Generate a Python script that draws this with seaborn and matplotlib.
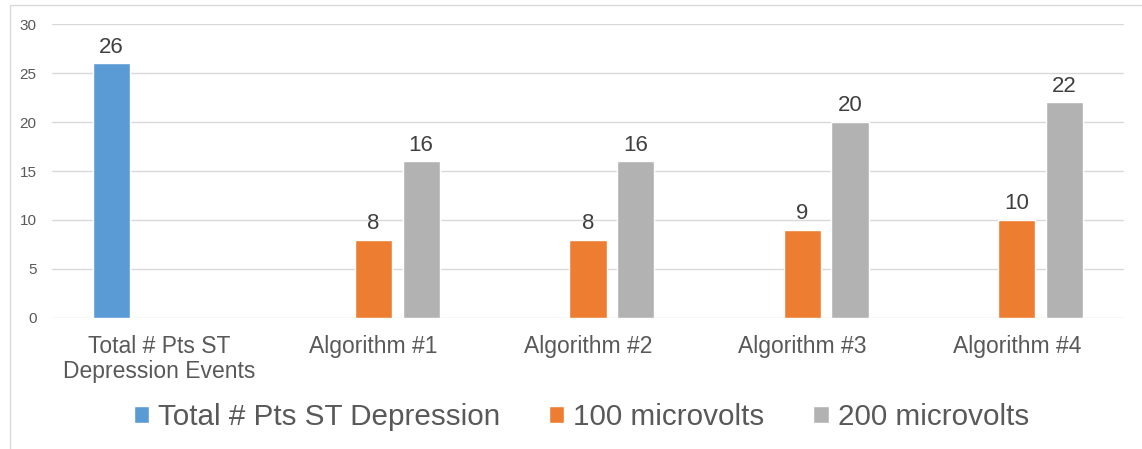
import matplotlib
matplotlib.use("Agg")
import matplotlib.pyplot as plt
from matplotlib.patches import Rectangle
import pandas as pd
import seaborn as sns

# Chart data
categories = ["Total # Pts ST\nDepression Events", "Algorithm #1", "Algorithm #2",
              "Algorithm #3", "Algorithm #4"]
series_names = ["Total # Pts ST Depression", "100 microvolts", "200 microvolts"]
total_events = [26]
uv100 = [8, 8, 9, 10]
uv200 = [16, 16, 20, 22]
y_ticks = [0, 5, 10, 15, 20, 25, 30]
colors = ["#5B9BD5", "#ED7D31", "#B2B2B2"]

rows = [(categories[0], series_names[0], total_events[0])]
for cat, a, b in zip(categories[1:], uv100, uv200):
    rows.append((cat, series_names[1], a))
    rows.append((cat, series_names[2], b))
df = pd.DataFrame(rows, columns=["category", "series", "value"])

sns.set_theme(style="white")
plt.rcParams["font.family"] = ["Liberation Sans", "DejaVu Sans"]

fig = plt.figure(figsize=(11.42, 4.49), dpi=100)
ax = fig.add_axes([0.0455, 0.2918, 0.9387, 0.6547])

sns.barplot(data=df, x="category", y="value", hue="series", order=categories,
            hue_order=series_names, palette=colors, width=0.666, gap=0.22,
            errorbar=None, saturation=1, legend=True, ax=ax)

ax.set_ylim(0, 30)
ax.set_xlim(-0.5, len(categories) - 0.5)
ax.set_yticks(y_ticks)
ax.grid(axis="y", color="#D9D9D9", linewidth=1)
ax.set_axisbelow(True)
for s in ax.spines.values():
    s.set_visible(False)
ax.set_xlabel("")
ax.set_ylabel("")
ax.tick_params(axis="y", labelsize=11, labelcolor="#595959", length=0, pad=11)
ax.tick_params(axis="x", labelsize=16.5, labelcolor="#595959", length=0, pad=12)
for lbl in ax.get_xticklabels():
    lbl.set_linespacing(1.15)

for cont in ax.containers:
    ax.bar_label(cont, fmt="%g", padding=4, fontsize=16, color="#404040")

handles, labels = ax.get_legend_handles_labels()
ax.get_legend().remove()
leg = fig.legend(handles, labels, loc="center", bbox_to_anchor=(0.509, 0.071),
                 ncol=3, frameon=False, fontsize=21.3, handlelength=0.52,
                 handleheight=0.52, handletextpad=0.3, columnspacing=1.65,
                 labelcolor="#595959")

# Thin frame around the chart area
fig.patches.append(Rectangle((10 / 1142, -0.1), 1.2, 1 - 5 / 449 + 0.1,
                             transform=fig.transFigure, fill=False,
                             edgecolor="#D9D9D9", linewidth=1, zorder=0))

fig.savefig("out.png", dpi=100)
